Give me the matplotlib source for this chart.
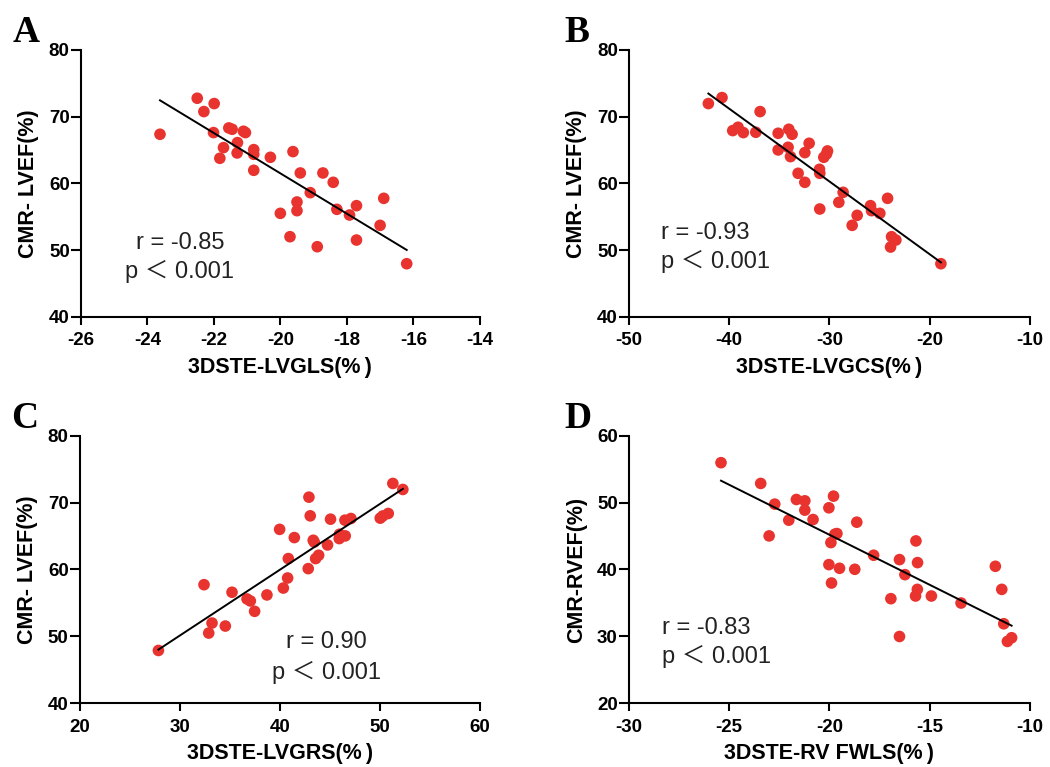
import numpy as np
from matplotlib import pyplot as plt

plt.rcParams["axes.unicode_minus"] = False

# panel A: 3DSTE-LVGLS vs CMR-LVEF
gls_x = [-23.62, -22.50, -22.30, -21.99, -22.01, -21.55, -21.45, -21.11, -21.05,
         -21.71, -21.82, -21.29, -21.30, -20.80, -20.80, -20.80, -20.30, -19.62,
         -19.40, -19.50, -19.50, -19.10, -20.00, -19.71, -18.89, -18.72, -18.41,
         -18.30, -17.92, -17.71, -17.71, -17.00, -16.89, -16.20]
gls_y = [67.35, 72.75, 70.75, 71.95, 67.6, 68.3, 68.1, 67.8, 67.6,
         65.35, 63.75, 66.1, 64.55, 65.05, 64.35, 61.95, 63.9, 64.75,
         61.55, 57.2, 55.9, 58.6, 55.5, 52.0, 50.5, 61.55, 60.15,
         56.1, 55.25, 56.65, 51.5, 53.7, 57.75, 47.95]

# panel B: 3DSTE-LVGCS vs CMR-LVEF
gcs_x = [-42.08, -40.72, -36.92, -39.65, -39.12, -38.59, -37.35, -35.12, -34.06,
         -33.73, -34.13, -35.12, -33.89, -32.03, -32.46, -33.13, -32.46, -31.00,
         -30.97, -30.57, -30.30, -30.20, -30.97, -28.64, -29.07, -27.24, -27.74,
         -25.91, -25.81, -24.98, -24.21, -23.81, -23.38, -23.91, -18.89]
gcs_y = [71.95, 72.85, 70.75, 67.9, 68.4, 67.6, 67.65, 67.5, 68.1,
         67.35, 65.4, 65.0, 64.0, 66.0, 64.6, 61.5, 60.15, 62.1,
         61.5, 63.9, 64.4, 64.85, 56.15, 58.65, 57.15, 55.2, 53.7,
         56.65, 55.9, 55.5, 57.75, 52.0, 51.5, 50.45, 47.95]

# panel C: 3DSTE-LVGRS vs CMR-LVEF
grs_x = [27.86, 32.42, 32.89, 33.22, 34.55, 35.22, 36.72, 37.05, 37.48, 38.71,
         39.98, 40.35, 40.78, 40.85, 41.45, 42.91, 43.04, 42.84, 43.34, 43.44,
         43.58, 43.88, 44.77, 45.07, 45.94, 46.54, 45.97, 46.51, 47.11, 50.04,
         50.30, 50.84, 51.30, 52.30]
grs_y = [47.9, 57.73, 50.5, 52.0, 51.55, 56.6, 55.6, 55.3, 53.75, 56.2,
         66.0, 57.23, 58.73, 61.63, 64.77, 70.81, 68.02, 60.13, 64.37, 64.1,
         61.63, 62.13, 63.67, 67.52, 64.62, 65.02, 65.27, 67.37, 67.62, 67.67,
         68.0, 68.37, 72.86, 71.96]

# panel D: 3DSTE-RV FWLS vs CMR-RVEF
fwls_x = [-25.41, -23.43, -23.01, -22.73, -22.03, -21.65, -21.23, -21.23, -20.82,
          -20.03, -19.80, -19.63, -19.73, -19.93, -20.03, -19.50, -19.90, -18.74,
          -18.64, -17.80, -16.94, -16.51, -16.24, -16.51, -15.69, -15.61, -15.62,
          -15.71, -14.92, -13.44, -11.73, -11.41, -11.31, -11.13, -10.92]
fwls_y = [55.96, 52.86, 45.02, 49.77, 47.37, 50.46, 50.26, 48.87, 47.47,
          49.22, 50.96, 45.37, 45.27, 44.02, 40.73, 40.18, 37.98, 40.03,
          47.07, 42.13, 35.64, 41.48, 39.23, 29.99, 44.27, 41.03, 37.03,
          36.04, 36.04, 34.99, 40.48, 37.03, 31.89, 29.25, 29.8]

panels = [
    ("A", gls_x, gls_y, "3DSTE-LVGLS(%\u2009)", "CMR- LVEF(%)", (-26, -14), np.arange(-26, -13, 2), (40, 80),
     "r = -0.85", "center", (0.248, 0.255, 0.146)),
    ("B", gcs_x, gcs_y, "3DSTE-LVGCS(%\u2009)", "CMR- LVEF(%)", (-50, -10), np.arange(-50, -9, 10), (40, 80),
     "r = -0.93", "left", (0.080, 0.292, 0.183)),
    ("C", grs_x, grs_y, "3DSTE-LVGRS(%\u2009)", "CMR- LVEF(%)", (20, 60), np.arange(20, 61, 10), (40, 80),
     "r = 0.90", "center", (0.617, 0.206, 0.090)),
    ("D", fwls_x, fwls_y, "3DSTE-RV FWLS(%\u2009)", "CMR-RVEF(%)", (-30, -10), np.arange(-30, -9, 5), (20, 60),
     "r = -0.83", "left", (0.082, 0.258, 0.150)),
]

# axes boxes in figure fraction: left, bottom, width, height
boxes = [
    (0.077, 0.587, 0.380, 0.348),
    (0.599, 0.587, 0.382, 0.348),
    (0.076, 0.083, 0.381, 0.349),
    (0.599, 0.083, 0.382, 0.349),
]

sans = "Liberation Sans"
fams = [sans, "DejaVu Sans"]
fig = plt.figure(figsize=(10.5, 7.67), dpi=100)

for (letter, x, y, xlab, ylab, xlim, xticks, ylim, rtext, ha, tpos), box in zip(panels, boxes):
    ax = fig.add_axes(box)
    x = np.array(x)
    y = np.array(y)
    ax.scatter(x, y, s=70, color="#E8332E", edgecolors="none", zorder=3)
    k, b = np.polyfit(x, y, 1)
    xs = np.array([x.min(), x.max()])
    ax.plot(xs, k * xs + b, color="black", lw=1.4, zorder=4)

    ax.set_xlim(*xlim)
    ax.set_ylim(*ylim)
    ax.set_xticks(xticks)
    ax.set_yticks(np.arange(ylim[0], ylim[1] + 1, 10))
    for s in ["top", "right"]:
        ax.spines[s].set_visible(False)
    for s in ["left", "bottom"]:
        ax.spines[s].set_linewidth(1.5)
    ax.tick_params(axis="both", width=1.5, labelsize=13.5)
    ax.tick_params(axis="y", length=7, pad=1)
    ax.tick_params(axis="x", length=6, pad=5)
    for lab in ax.get_xticklabels() + ax.get_yticklabels():
        lab.set_fontfamily(sans)
        lab.set_fontweight("bold")

    ax.set_xlabel(xlab, fontsize=15.5, fontweight="bold", family=fams)
    ax.xaxis.set_label_coords(0.5, -0.15)
    ax.set_ylabel(ylab, fontsize=15.5, fontweight="bold", fontfamily=sans)
    ax.yaxis.set_label_coords(-0.105, 0.5)

    tx, ry, py = tpos
    ax.text(tx, ry, rtext, transform=ax.transAxes, ha=ha, va="baseline",
            fontsize=17, family=[sans, "Noto Sans CJK SC"], color="#222222")
    ax.text(tx, py, "p \uff1c 0.001", transform=ax.transAxes, ha=ha, va="baseline",
            fontsize=17, family=[sans, "Noto Sans CJK SC"], color="#222222")

    # panel letter
    ax.text(-0.172 if box[0] < 0.5 else -0.16, 1.0, letter, transform=ax.transAxes,
            fontsize=27, fontweight="bold", fontfamily="Liberation Serif",
            ha="left", va="bottom")

fig.savefig("out.png", dpi=100)
